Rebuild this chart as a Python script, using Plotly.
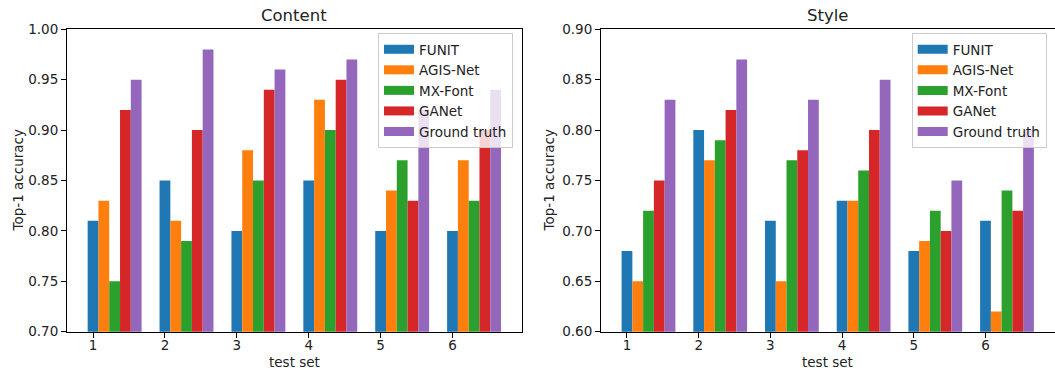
import plotly.graph_objects as go

test_sets = [1, 2, 3, 4, 5, 6]
methods = ["FUNIT", "AGIS-Net", "MX-Font", "GANet", "Ground truth"]
colors = ["#1f77b4", "#ff7f0e", "#2ca02c", "#d62728", "#9467bd"]

content_funit = [0.81, 0.85, 0.80, 0.85, 0.80, 0.80]
content_agis = [0.83, 0.81, 0.88, 0.93, 0.84, 0.87]
content_mx = [0.75, 0.79, 0.85, 0.90, 0.87, 0.83]
content_ganet = [0.92, 0.90, 0.94, 0.95, 0.83, 0.90]
content_gt = [0.95, 0.98, 0.96, 0.97, 0.92, 0.94]

style_funit = [0.68, 0.80, 0.71, 0.73, 0.68, 0.71]
style_agis = [0.65, 0.77, 0.65, 0.73, 0.69, 0.62]
style_mx = [0.72, 0.79, 0.77, 0.76, 0.72, 0.74]
style_ganet = [0.75, 0.82, 0.78, 0.80, 0.70, 0.72]
style_gt = [0.83, 0.87, 0.83, 0.85, 0.75, 0.80]

content = [content_funit, content_agis, content_mx, content_ganet, content_gt]
style = [style_funit, style_agis, style_mx, style_ganet, style_gt]

bar_w = 0.15
W, H = 1055, 370
FONT = "DejaVu Sans"

fig = go.Figure()

for panel, (data, xa, ya, lg) in enumerate([(content, "x", "y", "legend"),
                                             (style, "x2", "y2", "legend2")]):
    for k, (name, col, vals) in enumerate(zip(methods, colors, data)):
        fig.add_trace(go.Bar(
            x=test_sets, y=vals, width=bar_w, offset=-bar_w / 2 + k * bar_w,
            marker=dict(color=col, line=dict(width=0)),
            name=name, showlegend=False, xaxis=xa, yaxis=ya,
            base=0, hoverinfo="skip",
        ))
    for name, col in zip(methods, colors):
        fig.add_trace(go.Scatter(
            x=[None], y=[None], mode="lines", line=dict(color=col, width=9),
            name=name, legend=lg, xaxis=xa, yaxis=ya, showlegend=True,
        ))

def px_x(p):
    return p / W

def px_y(p):
    return (H - p) / H

ydom = [px_y(331.7), px_y(29.3)]
xdom1 = [px_x(67), px_x(521.7)]
xdom2 = [px_x(601), px_x(1054.5)]

axis_common = dict(
    showline=True, linecolor="black", linewidth=1, mirror=True,
    ticks="outside", ticklen=5, tickwidth=1, tickcolor="black",
    showgrid=False, zeroline=False, automargin=False,
    tickfont=dict(family=FONT, size=13.5, color="#222"),
)

legend_common = dict(
    xanchor="left", yanchor="top",
    bgcolor="rgba(255,255,255,0.8)", bordercolor="#cccccc",
    borderwidth=1, font=dict(family=FONT, size=13.5, color="#222"),
    tracegroupgap=0,
)

fig.update_layout(
    width=W, height=H,
    margin=dict(l=0, r=0, t=0, b=0),
    paper_bgcolor="white", plot_bgcolor="white",
    barmode="overlay",
    font=dict(family=FONT, size=13.5, color="#222"),
    xaxis=dict(domain=xdom1, range=[0.6375, 6.9625], tickvals=test_sets,
               anchor="y", ticklabelstandoff=-4, **axis_common),
    yaxis=dict(domain=ydom, range=[0.70, 1.00], dtick=0.05, tick0=0.70,
               tickformat=".2f", anchor="x", **axis_common),
    xaxis2=dict(domain=xdom2, range=[0.6375, 6.9625], tickvals=test_sets,
                anchor="y2", ticklabelstandoff=-4, **axis_common),
    yaxis2=dict(domain=ydom, range=[0.60, 0.90], dtick=0.05, tick0=0.60,
                tickformat=".2f", anchor="x2", **axis_common),
    legend=dict(x=px_x(378), y=px_y(33), **legend_common),
    legend2=dict(x=px_x(911.7), y=px_y(33), **legend_common),
)

def label(text, x, y, size=13.5, angle=0):
    return dict(text=text, x=x, y=y, xref="paper", yref="paper",
                xanchor="center", yanchor="middle", showarrow=False,
                textangle=angle, font=dict(family=FONT, size=size, color="#222"))

ann = [
    label("Content", (xdom1[0] + xdom1[1]) / 2, px_y(15), size=16.5),
    label("Style", (xdom2[0] + xdom2[1]) / 2, px_y(15), size=16.5),
]
for xd in (xdom1, xdom2):
    ann.append(label("test set", (xd[0] + xd[1]) / 2, px_y(362)))
for xc in (17, 548):
    ann.append(label("Top-1 accuracy", px_x(xc), (ydom[0] + ydom[1]) / 2, angle=-90))
fig.update_layout(annotations=ann)

fig.write_html("out.html", config={"displayModeBar": False},
               post_script="document.body.style.margin='0';document.body.style.padding='0';")
